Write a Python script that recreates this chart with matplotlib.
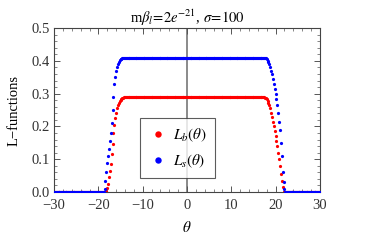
import numpy as np
import matplotlib
matplotlib.use("Agg")
import matplotlib.pyplot as plt
from matplotlib.ticker import MultipleLocator

plt.rcParams['font.family'] = ['Liberation Serif', 'DejaVu Serif']
plt.rcParams['mathtext.fontset'] = 'stix'

# sampled theta grid
theta = np.round(np.arange(-30, 30.001, 0.2), 1)

# plateau heights
lb_plateau = 0.29
ls_plateau = 0.41

# L_b edges (red)
lb_left_t = [-18.4, -18.2, -18.0, -17.8, -17.6, -17.4, -17.2, -17.0, -16.8, -16.6, -16.4, -16.2,
             -16.0, -15.8, -15.6, -15.4, -15.2, -15.0, -14.8, -14.6, -14.4, -14.2]
lb_left_v = [0.0, 0.004, 0.012, 0.025, 0.045, 0.065, 0.085, 0.115, 0.145, 0.18, 0.205, 0.225,
             0.24, 0.255, 0.265, 0.272, 0.278, 0.282, 0.285, 0.287, 0.288, 0.289]
lb_right_t = [17.4, 17.6, 17.8, 18.0, 18.2, 18.4, 18.6, 18.8, 19.0, 19.2, 19.4, 19.6, 19.8,
              20.0, 20.2, 20.4, 20.6, 20.8, 21.0, 21.2, 21.4, 21.6, 21.8]
lb_right_v = [0.289, 0.288, 0.286, 0.283, 0.278, 0.272, 0.265, 0.255, 0.24, 0.23, 0.215, 0.2, 0.185,
              0.17, 0.155, 0.14, 0.12, 0.1, 0.08, 0.055, 0.035, 0.015, 0.0]

# L_s edges (blue)
ls_left_t = [-18.8, -18.6, -18.4, -18.2, -18.0, -17.8, -17.6, -17.4, -17.2, -17.0, -16.8, -16.6,
             -16.4, -16.2, -16.0, -15.8, -15.6, -15.4, -15.2, -15.0, -14.8, -14.6, -14.4]
ls_left_v = [0.0, 0.01, 0.035, 0.06, 0.09, 0.11, 0.13, 0.155, 0.18, 0.21, 0.25, 0.29,
             0.33, 0.35, 0.37, 0.38, 0.39, 0.397, 0.402, 0.405, 0.407, 0.408, 0.409]
ls_right_t = [17.8, 18.0, 18.2, 18.4, 18.6, 18.8, 19.0, 19.2, 19.4, 19.6, 19.8, 20.0, 20.2,
              20.4, 20.6, 20.8, 21.0, 21.2, 21.4, 21.6, 21.8, 22.0, 22.2]
ls_right_v = [0.408, 0.405, 0.40, 0.395, 0.39, 0.38, 0.37, 0.36, 0.345, 0.33, 0.315, 0.30, 0.285,
              0.265, 0.24, 0.215, 0.19, 0.15, 0.11, 0.06, 0.03, 0.01, 0.0]


def build(plateau, lt, lv, rt, rv):
    edges = dict(zip(lt + rt, lv + rv))
    out = []
    for t in theta:
        if t in edges:
            out.append(edges[t])
        elif lt[-1] < t < rt[0]:
            out.append(plateau)
        else:
            out.append(0.0)
    return np.array(out)


Lb = build(lb_plateau, lb_left_t, lb_left_v, lb_right_t, lb_right_v)
Ls = build(ls_plateau, ls_left_t, ls_left_v, ls_right_t, ls_right_v)

fig = plt.figure(figsize=(3.92, 2.44), dpi=100)
ax = fig.add_axes([0.138, 0.213, 0.678, 0.672])

ax.axvline(0, color='#777777', lw=1.2, zorder=1)
ax.plot(theta, Lb, 'o', color='#ff0000', ms=2.3, mew=0, label=r'$L_b(\theta)$', zorder=2)
ax.plot(theta, Ls, 'o', color='#0000ff', ms=2.3, mew=0, label=r'$L_s(\theta)$', zorder=3)

ax.set_xlim(-30, 30)
ax.set_ylim(0, 0.5)
ax.xaxis.set_major_locator(MultipleLocator(10))
ax.xaxis.set_minor_locator(MultipleLocator(2))
ax.yaxis.set_major_locator(MultipleLocator(0.1))
ax.yaxis.set_minor_locator(MultipleLocator(0.02))
ax.yaxis.set_major_formatter(matplotlib.ticker.FormatStrFormatter('%.1f'))
ax.tick_params(which='both', direction='in', top=True, right=True, color='#555555',
               labelsize=10.5, labelcolor='#333333')
ax.tick_params(axis='x', pad=5)
ax.tick_params(axis='y', pad=3)
ax.tick_params(which='major', length=4, width=0.7)
ax.tick_params(which='minor', length=2, width=0.5)
for s in ax.spines.values():
    s.set_color('#444444')
    s.set_linewidth(0.8)

ax.set_title(r'm$\beta_l\!=\!2e^{-21}$, $\sigma\!=\!100$', fontsize=10.5, pad=4)
ax.set_xlabel(r'$\theta$', fontsize=11, labelpad=6)
ax.set_ylabel('L\u2212functions', fontsize=10.5, labelpad=8)

leg = ax.legend(loc='lower left', bbox_to_anchor=(0.323, 0.085), borderaxespad=0, fontsize=11,
                markerscale=2.0, frameon=True, fancybox=False, edgecolor='#333333',
                borderpad=0.55, labelspacing=0.55, handletextpad=0.4, handlelength=1.2)
leg.get_frame().set_linewidth(0.8)
leg.set_zorder(5)

fig.savefig('out.png', dpi=100)
